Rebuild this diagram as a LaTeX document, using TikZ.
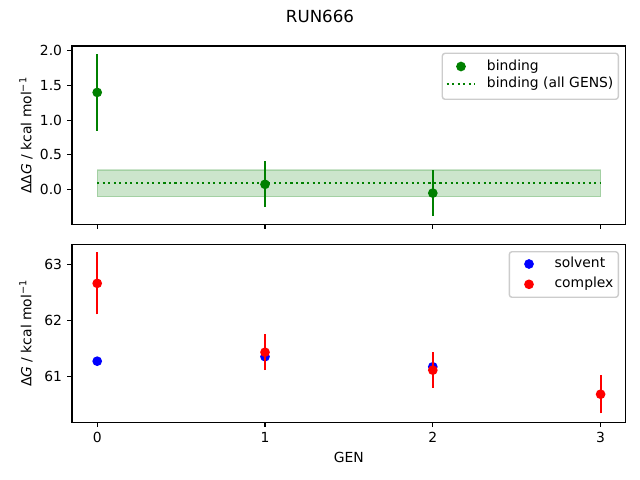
\documentclass[tikz,border=0pt]{standalone}
\usepackage{fontspec}
\setmainfont{DejaVu Sans}
\definecolor{mplgreen}{HTML}{008000}
\definecolor{mplblue}{HTML}{0000FF}
\definecolor{mplred}{HTML}{FF0000}
\definecolor{legendedge}{HTML}{CCCCCC}

\begin{document}
\begin{tikzpicture}[x=0.72pt,y=-0.72pt]
\tikzstyle{frame}=[draw=black,line width=0.8pt]
\tikzstyle{tick}=[draw=black,line width=0.8pt]
\tikzstyle{label}=[font=\fontsize{10pt}{12pt}\selectfont,inner sep=0pt]
\tikzstyle{dot}=[circle,inner sep=0pt,minimum size=7pt]
\tikzstyle{errbar}=[line width=1.5pt]
\tikzstyle{dotline}=[line width=1.5pt,dash pattern=on 1.5pt off 2.475pt]
\tikzstyle{legendbox}=[draw=legendedge,fill=white,fill opacity=0.8,line width=1pt,rounded corners=2pt]
\useasboundingbox (0,0) rectangle (640,480);
\fill[white] (0,0) rectangle (640,480);

% title
\node[font=\fontsize{12pt}{14pt}\selectfont,inner sep=0pt] (title) at (320,16) {RUN666};

% top panel: binding
\begin{scope}[shift={(97.2,189.3)},x=120.816pt,y=49.824pt]
\filldraw[fill=mplgreen,draw=mplgreen,opacity=0.2,line width=1pt] (0,-0.107) rectangle (3,0.279);
\draw[mplgreen,dotline] (0,0.096) -- (3,0.096);
\coordinate (b0lo) at (0,0.845);
\coordinate (b0hi) at (0,1.955);
\coordinate (b1lo) at (1,-0.258);
\coordinate (b1hi) at (1,0.402);
\coordinate (b2lo) at (2,-0.385);
\coordinate (b2hi) at (2,0.275);
\draw[mplgreen,errbar] (b0lo) -- (b0hi);
\draw[mplgreen,errbar] (b1lo) -- (b1hi);
\draw[mplgreen,errbar] (b2lo) -- (b2hi);
\node[dot,fill=mplgreen] (b0) at (0,1.40) {};
\node[dot,fill=mplgreen] (b1) at (1,0.072) {};
\node[dot,fill=mplgreen] (b2) at (2,-0.055) {};
\draw[frame] (-0.15,-0.506) rectangle (3.15,2.071);
\draw[tick] (0,-0.506) -- ++(0pt,-3.5pt);
\draw[tick] (1,-0.506) -- ++(0pt,-3.5pt);
\draw[tick] (2,-0.506) -- ++(0pt,-3.5pt);
\draw[tick] (3,-0.506) -- ++(0pt,-3.5pt);
\draw[tick] (-0.15,0) -- ++(-3.5pt,0pt);
\draw[tick] (-0.15,0.5) -- ++(-3.5pt,0pt);
\draw[tick] (-0.15,1) -- ++(-3.5pt,0pt);
\draw[tick] (-0.15,1.5) -- ++(-3.5pt,0pt);
\draw[tick] (-0.15,2) -- ++(-3.5pt,0pt);
\node[label,anchor=east,xshift=-7pt] (yt00) at (-0.15,0) {0.0};
\node[label,anchor=east,xshift=-7pt] (yt05) at (-0.15,0.5) {0.5};
\node[label,anchor=east,xshift=-7pt] (yt10) at (-0.15,1) {1.0};
\node[label,anchor=east,xshift=-7pt] (yt15) at (-0.15,1.5) {1.5};
\node[label,anchor=east,xshift=-7pt] (yt20) at (-0.15,2) {2.0};
\end{scope}
\node[label,rotate=90] (ylabeltop) at (26,135.3) {ΔΔ{\itshape G} / kcal mol\textsuperscript{−1}};

% top legend
\draw[legendbox] (442.3,53.3) rectangle (618.3,99.3);
\node[dot,fill=mplgreen] (legbind) at (461,66.5) {};
\coordinate (legall1) at (446.7,84);
\coordinate (legall2) at (475.3,84);
\draw[mplgreen,dotline] (legall1) -- (legall2);
\node[label,anchor=base west] (legbindtext) at (486.7,70) {binding};
\node[label,anchor=base west] (legalltext) at (486.7,87.5) {binding (all GENS)};

% bottom panel: solvent and complex
\begin{scope}[shift={(97.2,3792.3)},x=120.816pt,y=40.32pt]
\node[dot,fill=mplblue] (s0) at (0,61.27) {};
\node[dot,fill=mplblue] (s1) at (1,61.35) {};
\node[dot,fill=mplblue] (s2) at (2,61.17) {};
\coordinate (c0lo) at (0,62.105);
\coordinate (c0hi) at (0,63.215);
\coordinate (c1lo) at (1,61.11);
\coordinate (c1hi) at (1,61.75);
\coordinate (c2lo) at (2,60.80);
\coordinate (c2hi) at (2,61.43);
\coordinate (c3lo) at (3,60.34);
\coordinate (c3hi) at (3,61.02);
\draw[mplred,errbar] (c0lo) -- (c0hi);
\draw[mplred,errbar] (c1lo) -- (c1hi);
\draw[mplred,errbar] (c2lo) -- (c2hi);
\draw[mplred,errbar] (c3lo) -- (c3hi);
\node[dot,fill=mplred] (c0) at (0,62.66) {};
\node[dot,fill=mplred] (c1) at (1,61.43) {};
\node[dot,fill=mplred] (c2) at (2,61.11) {};
\node[dot,fill=mplred] (c3) at (3,60.68) {};
\draw[frame] (-0.15,60.179) rectangle (3.15,63.357);
\draw[tick] (0,60.179) -- ++(0pt,-3.5pt);
\draw[tick] (1,60.179) -- ++(0pt,-3.5pt);
\draw[tick] (2,60.179) -- ++(0pt,-3.5pt);
\draw[tick] (3,60.179) -- ++(0pt,-3.5pt);
\draw[tick] (-0.15,61) -- ++(-3.5pt,0pt);
\draw[tick] (-0.15,62) -- ++(-3.5pt,0pt);
\draw[tick] (-0.15,63) -- ++(-3.5pt,0pt);
\node[label,anchor=east,xshift=-7pt] (yt61) at (-0.15,61) {61};
\node[label,anchor=east,xshift=-7pt] (yt62) at (-0.15,62) {62};
\node[label,anchor=east,xshift=-7pt] (yt63) at (-0.15,63) {63};
\node[label,anchor=north,yshift=-7pt] (xt0) at (0,60.179) {0};
\node[label,anchor=north,yshift=-7pt] (xt1) at (1,60.179) {1};
\node[label,anchor=north,yshift=-7pt] (xt2) at (2,60.179) {2};
\node[label,anchor=north,yshift=-7pt] (xt3) at (3,60.179) {3};
\end{scope}
\node[label,rotate=90] (ylabelbottom) at (26,333.3) {Δ{\itshape G} / kcal mol\textsuperscript{−1}};
\node[label] (xlabel) at (348.9,457.7) {GEN};

% bottom legend
\draw[legendbox] (509.3,251.7) rectangle (618.3,297.3);
\node[dot,fill=mplblue] (legsolv) at (529,264) {};
\node[dot,fill=mplred] (legcomp) at (529,284.3) {};
\node[label,anchor=base west] (legsolvtext) at (554.3,267.5) {solvent};
\node[label,anchor=base west] (legcomptext) at (554.3,287.8) {complex};
\end{tikzpicture}
\end{document}
